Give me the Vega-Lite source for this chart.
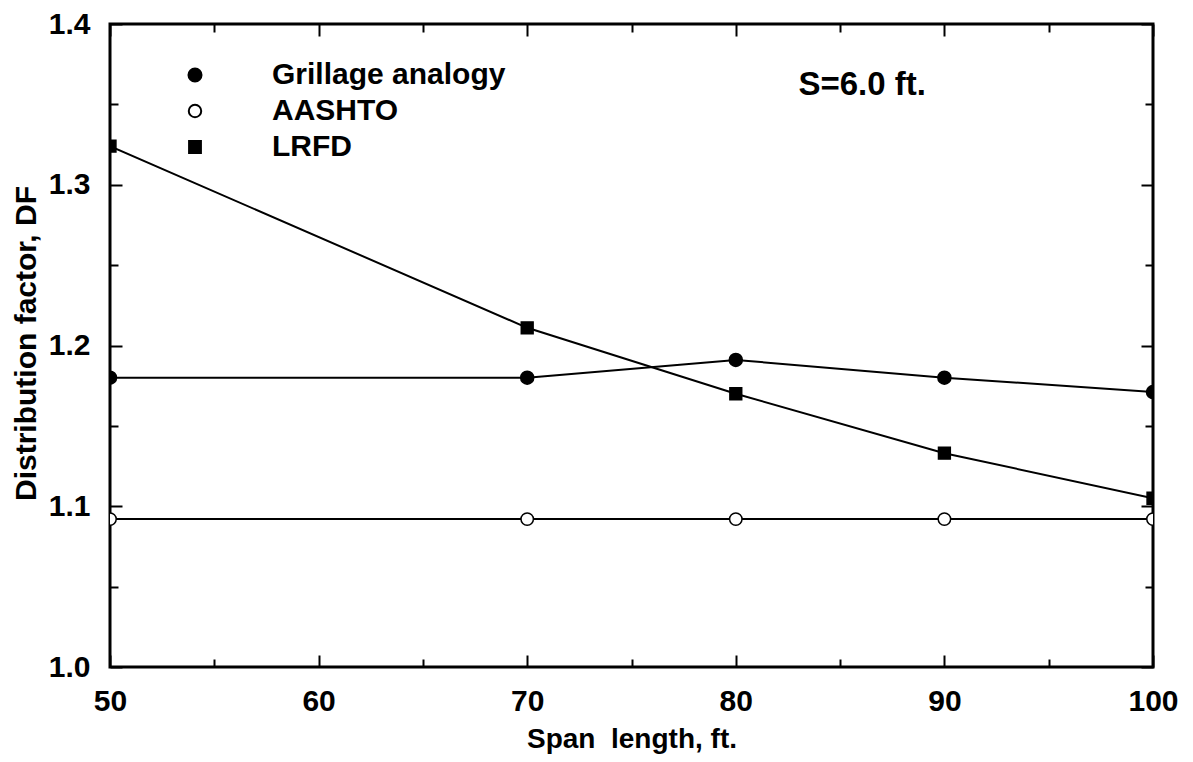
{
  "$schema": "https://vega.github.io/schema/vega-lite/v6.json",
  "width": 1043,
  "height": 643,
  "autosize": {"type": "none"},
  "padding": {"left": 110, "top": 24, "right": 40, "bottom": 95},
  "background": "white",
  "config": {
    "view": {"stroke": "black", "strokeWidth": 3},
    "font": "Liberation Sans",
    "axis": {
      "grid": false,
      "domain": false,
      "tickColor": "black",
      "tickWidth": 2,
      "labelColor": "black",
      "labelFont": "Liberation Sans",
      "labelFontWeight": "bold",
      "labelFontSize": 30,
      "labelFlush": false,
      "labelOverlap": false,
      "titleFont": "Liberation Sans",
      "titleFontWeight": "bold",
      "titleColor": "black"
    },
    "legend": {
      "labelFont": "Liberation Sans",
      "labelFontWeight": "bold",
      "labelFontSize": 30,
      "labelColor": "black",
      "labelLimit": 0,
      "symbolStrokeWidth": 2,
      "padding": 0,
      "labelOffset": 62,
      "rowPadding": 6
    }
  },
  "datasets": {
    "df": [
      {"series": "Grillage analogy", "x": 50, "y": 1.18},
      {"series": "Grillage analogy", "x": 70, "y": 1.18},
      {"series": "Grillage analogy", "x": 80, "y": 1.191},
      {"series": "Grillage analogy", "x": 90, "y": 1.18},
      {"series": "Grillage analogy", "x": 100, "y": 1.171},
      {"series": "AASHTO", "x": 50, "y": 1.092},
      {"series": "AASHTO", "x": 70, "y": 1.092},
      {"series": "AASHTO", "x": 80, "y": 1.092},
      {"series": "AASHTO", "x": 90, "y": 1.092},
      {"series": "AASHTO", "x": 100, "y": 1.092},
      {"series": "LRFD", "x": 50, "y": 1.324},
      {"series": "LRFD", "x": 70, "y": 1.211},
      {"series": "LRFD", "x": 80, "y": 1.17},
      {"series": "LRFD", "x": 90, "y": 1.133},
      {"series": "LRFD", "x": 100, "y": 1.105}
    ],
    "note": [{"label": "S=6.0 ft.", "x": 83.0, "y": 1.356}]
  },
  "resolve": {
    "scale": {"x": "shared", "y": "shared"},
    "axis": {"x": "independent", "y": "independent"}
  },
  "layer": [
    {
      "data": {"name": "df"},
      "transform": [{"filter": "datum.series !== 'AASHTO'"}],
      "mark": {"type": "line", "color": "black", "strokeWidth": 2, "clip": true},
      "encoding": {
        "x": {
          "field": "x", "type": "quantitative",
          "scale": {"domain": [50, 100], "nice": false, "zero": false},
          "axis": {
            "orient": "bottom", "values": [50, 60, 70, 80, 90, 100], "tickSize": -12, "labelPadding": 31,
            "title": "Span\u00a0 length, ft.", "titleFontSize": 28, "titleY": 80, "titleBaseline": "alphabetic"
          }
        },
        "y": {
          "field": "y", "type": "quantitative",
          "scale": {"domain": [1.0, 1.4], "nice": false, "zero": false},
          "axis": {
            "orient": "left", "values": [1.0, 1.1, 1.2, 1.3, 1.4], "format": ".1f", "tickSize": -12, "labelPadding": 32,
            "title": "Distribution factor, DF", "titleFontSize": 30, "titleX": -75, "titleY": 319,
            "titleAngle": -90, "titleBaseline": "alphabetic", "titleAlign": "center"
          }
        },
        "detail": {"field": "series"}
      }
    },
    {
      "data": {"name": "df"},
      "transform": [{"filter": "datum.series === 'AASHTO'"}],
      "mark": {"type": "line", "color": "black", "strokeWidth": 2, "clip": true},
      "encoding": {
        "x": {
          "field": "x", "type": "quantitative",
          "scale": {"domain": [50, 100], "nice": false, "zero": false},
          "axis": {"orient": "top", "values": [50, 60, 70, 80, 90, 100], "tickSize": -12, "labels": false, "title": null}
        },
        "y": {
          "field": "y", "type": "quantitative",
          "scale": {"domain": [1.0, 1.4], "nice": false, "zero": false},
          "axis": {"orient": "right", "values": [1.0, 1.1, 1.2, 1.3, 1.4], "tickSize": -12, "labels": false, "title": null}
        }
      }
    },
    {
      "data": {"name": "df"},
      "mark": {"type": "point", "filled": true, "strokeWidth": 1.5, "opacity": 1, "clip": true},
      "encoding": {
        "x": {
          "field": "x", "type": "quantitative",
          "scale": {"domain": [50, 100], "nice": false, "zero": false},
          "axis": {"orient": "bottom", "values": [55, 65, 75, 85, 95], "tickSize": -8, "labels": false, "title": null}
        },
        "y": {
          "field": "y", "type": "quantitative",
          "scale": {"domain": [1.0, 1.4], "nice": false, "zero": false},
          "axis": {"orient": "left", "values": [1.05, 1.15, 1.25, 1.35], "tickSize": -8, "labels": false, "title": null}
        },
        "shape": {
          "field": "series", "type": "nominal",
          "scale": {"domain": ["Grillage analogy", "AASHTO", "LRFD"], "range": ["circle", "circle", "square"]},
          "legend": {"orient": "none", "legendX": 70, "legendY": 36, "title": null}
        },
        "fill": {
          "field": "series", "type": "nominal",
          "scale": {"domain": ["Grillage analogy", "AASHTO", "LRFD"], "range": ["black", "white", "black"]},
          "legend": {"orient": "none", "legendX": 70, "legendY": 36, "title": null}
        },
        "stroke": {
          "field": "series", "type": "nominal",
          "scale": {"domain": ["Grillage analogy", "AASHTO", "LRFD"], "range": ["black", "black", "black"]},
          "legend": {"orient": "none", "legendX": 70, "legendY": 36, "title": null}
        },
        "size": {
          "field": "series", "type": "nominal",
          "scale": {"domain": ["Grillage analogy", "AASHTO", "LRFD"], "range": [170, 140, 200]},
          "legend": {"orient": "none", "legendX": 70, "legendY": 36, "title": null}
        }
      }
    },
    {
      "data": {"name": "note"},
      "mark": {"type": "text", "align": "left", "baseline": "alphabetic", "fontSize": 33, "fontWeight": "bold", "font": "Liberation Sans", "color": "black"},
      "encoding": {
        "x": {
          "field": "x", "type": "quantitative",
          "scale": {"domain": [50, 100], "nice": false, "zero": false},
          "axis": {"orient": "top", "values": [55, 65, 75, 85, 95], "tickSize": -8, "labels": false, "title": null}
        },
        "y": {
          "field": "y", "type": "quantitative",
          "scale": {"domain": [1.0, 1.4], "nice": false, "zero": false},
          "axis": {"orient": "right", "values": [1.05, 1.15, 1.25, 1.35], "tickSize": -8, "labels": false, "title": null}
        },
        "text": {"field": "label"}
      }
    }
  ]
}
